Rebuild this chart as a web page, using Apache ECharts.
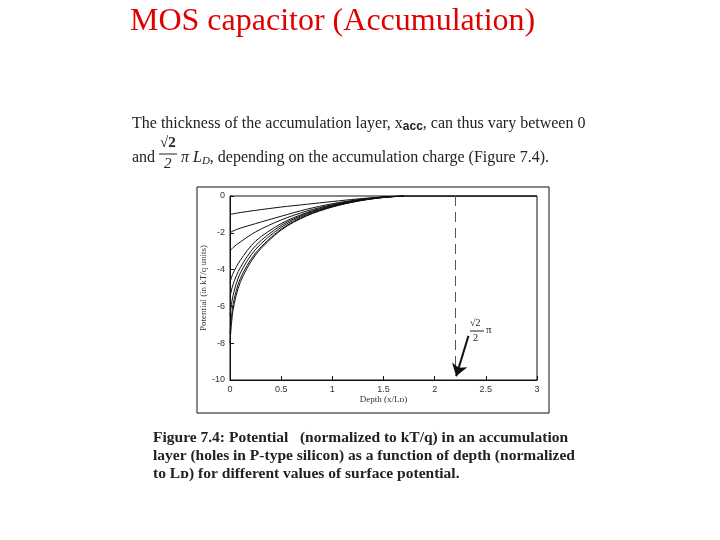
<!DOCTYPE html>
<html><head><meta charset="utf-8">
<script src="https://cdn.jsdelivr.net/npm/echarts@6/dist/echarts.min.js"></script>
<style>html,body{margin:0;padding:0;background:#fff}#c{width:720px;height:540px}</style>
</head><body><div id="c"></div>
<script>
const depth = [0, 0.03, 0.1, 0.25, 0.5, 0.75, 1.0, 1.25, 1.5, 1.7];
const curves = [
  [-1.0, -0.97, -0.9, -0.78, -0.6, -0.45, -0.3, -0.16, -0.05, 0],
  [-2.0, -1.9, -1.75, -1.5, -1.1, -0.72, -0.42, -0.2, -0.05, 0],
  [-3.0, -2.8, -2.5, -1.95, -1.3, -0.82, -0.47, -0.22, -0.06, 0],
  [-4.7, -4.2, -3.5, -2.45, -1.5, -0.9, -0.5, -0.23, -0.06, 0],
  [-5.5, -4.8, -3.9, -2.7, -1.6, -0.95, -0.53, -0.25, -0.07, 0],
  [-6.5, -5.4, -4.2, -2.9, -1.7, -1.0, -0.56, -0.26, -0.07, 0],
  [-7.5, -5.9, -4.5, -3.1, -1.8, -1.05, -0.58, -0.27, -0.08, 0],
  [-8.0, -6.2, -4.7, -3.2, -1.85, -1.08, -0.6, -0.28, -0.08, 0]
];
const limitX = 2.2;

const series = curves.map(c => ({
  type: 'line', data: depth.map((x, i) => [x, c[i]]), smooth: 0.3, symbol: 'none',
  lineStyle: {color: '#111', width: 1}
}));
series.push({type:'line', data:[[1.7,0],[3,0]], symbol:'none', lineStyle:{color:'#111', width:1.5}});
series.push({type:'line', data:[], markLine:{silent:true, symbol:['none','none'], label:{show:false},
  lineStyle:{color:'#555', type:[10,6], width:1},
  data:[[{coord:[limitX,0]},{coord:[limitX,-9.6]}]]}});
series.push({type:'line', data:[], markLine:{silent:true, symbol:['none','arrow'], symbolSize:12, label:{show:false},
  lineStyle:{color:'#111', type:'solid', width:2},
  data:[[{coord:[2.33,-7.6]},{coord:[2.21,-9.8]}]]}});

const ax = {
  axisLine:{show:true, onZero:false, lineStyle:{color:'#111'}},
  axisTick:{inside:true, length:4, lineStyle:{color:'#111'}},
  splitLine:{show:false},
  axisLabel:{color:'#333', fontSize:9, fontFamily:'Liberation Sans', margin:5}
};
const chart = echarts.init(document.getElementById('c'));
chart.setOption({
  animation:false,
  grid:{left:230, right:183, top:196, bottom:160, show:true, borderColor:'#111', borderWidth:1},
  xAxis:Object.assign({type:'value', min:0, max:3, interval:0.5, name:'Depth (x/L\u1d05)', nameLocation:'middle', nameGap:13,
    nameTextStyle:{fontSize:9, color:'#333', fontFamily:'Liberation Serif'}}, ax),
  yAxis:Object.assign({type:'value', min:-10, max:0, interval:2, name:'Potential (in kT/q units)', nameLocation:'middle', nameGap:18,
    nameTextStyle:{fontSize:9, color:'#333', fontFamily:'Liberation Serif'}}, ax),
  series: series,
  graphic:[
    {type:'text', left:130, top:6, style:{text:'MOS capacitor (Accumulation)', fill:'#e00000', font:'32px "Liberation Serif"'}},
    {type:'text', left:132, top:116, style:{rich:{n:{font:'16px "Liberation Serif"', fill:'#222'}, s:{font:'bold 12px "Liberation Sans"', fill:'#222', padding:[6,0,0,0]}},
      text:'{n|The thickness of the accumulation layer, x}{s|acc}{n|, can thus vary between 0}'}},
    {type:'text', left:132, top:150, style:{text:'and', fill:'#222', font:'16px "Liberation Serif"'}},
    {type:'text', left:160, top:136, style:{text:'\u221a2', fill:'#222', font:'bold 15px "Liberation Serif"'}},
    {type:'line', shape:{x1:159,y1:154,x2:177,y2:154}, style:{stroke:'#222', lineWidth:1}},
    {type:'text', left:164, top:157, style:{text:'2', fill:'#222', font:'italic 15px "Liberation Serif"'}},
    {type:'text', left:181, top:150, style:{rich:{i:{font:'italic 16px "Liberation Serif"', fill:'#222'}, s:{font:'italic 11px "Liberation Serif"', fill:'#222', padding:[6,0,0,0]}, n:{font:'16px "Liberation Serif"', fill:'#222'}},
      text:'{i|\u03c0 L}{s|D}{n|, depending on the accumulation charge (Figure 7.4).}'}},
    {type:'rect', shape:{x:197, y:187, width:352, height:226}, style:{fill:'none', stroke:'#111', lineWidth:1}},
    {type:'text', left:470, top:318, style:{text:'\u221a2', fill:'#222', font:'10px "Liberation Serif"'}},
    {type:'line', shape:{x1:470,y1:331,x2:484,y2:331}, style:{stroke:'#222', lineWidth:1}},
    {type:'text', left:473, top:333, style:{text:'2', fill:'#222', font:'10px "Liberation Serif"'}},
    {type:'text', left:486, top:325, style:{text:'\u03c0', fill:'#222', font:'11px "Liberation Serif"'}},
    {type:'text', left:153, top:430, style:{text:'Figure 7.4: Potential   (normalized to kT/q) in an accumulation', fill:'#222', font:'bold 15.5px "Liberation Serif"'}},
    {type:'text', left:153, top:448, style:{text:'layer (holes in P-type silicon) as a function of depth (normalized', fill:'#222', font:'bold 15.5px "Liberation Serif"'}},
    {type:'text', left:153, top:466, style:{text:'to L\u1d05) for different values of surface potential.', fill:'#222', font:'bold 15.5px "Liberation Serif"'}}
  ]
});
</script></body></html>
